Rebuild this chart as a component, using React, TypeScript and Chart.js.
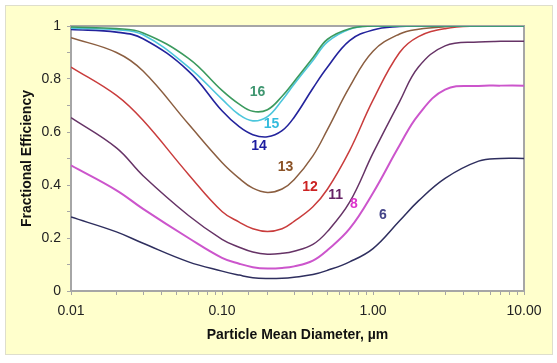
import React, { useEffect, useRef } from "react";
import { Chart, registerables } from "chart.js";

Chart.register(...registerables);

// Particle mean diameter (µm)
const diameters = [0.01, 0.02, 0.03, 0.06, 0.1, 0.13, 0.16, 0.2, 0.25, 0.3, 0.4, 0.5, 0.7, 1, 1.5, 2, 3, 5, 7, 10];

// Fractional efficiency per curve
const eff16 = [0.996, 0.99, 0.974, 0.878, 0.757, 0.705, 0.678, 0.684, 0.735, 0.79, 0.88, 0.95, 0.99, 1, 1, 1, 1, 1, 1, 1];
const eff15 = [0.992, 0.986, 0.967, 0.845, 0.724, 0.665, 0.642, 0.658, 0.72, 0.78, 0.87, 0.94, 0.988, 1, 1, 1, 1, 1, 1, 1];
const eff14 = [0.987, 0.977, 0.952, 0.83, 0.68, 0.62, 0.59, 0.582, 0.605, 0.655, 0.765, 0.845, 0.945, 0.985, 0.998, 1, 1, 1, 1, 1];
const eff13 = [0.956, 0.9, 0.83, 0.63, 0.485, 0.425, 0.388, 0.372, 0.385, 0.42, 0.51, 0.61, 0.77, 0.905, 0.97, 0.988, 0.997, 1, 1, 1];
const eff12 = [0.845, 0.738, 0.644, 0.44, 0.3, 0.26, 0.235, 0.225, 0.235, 0.263, 0.318, 0.385, 0.53, 0.72, 0.9, 0.96, 0.99, 1, 1, 1];
const eff11 = [0.654, 0.54, 0.435, 0.285, 0.195, 0.165, 0.147, 0.139, 0.142, 0.15, 0.176, 0.225, 0.335, 0.52, 0.715, 0.845, 0.925, 0.94, 0.942, 0.942];
const eff8 = [0.474, 0.38, 0.31, 0.2, 0.125, 0.103, 0.09, 0.085, 0.087, 0.093, 0.115, 0.155, 0.235, 0.37, 0.55, 0.665, 0.76, 0.774, 0.775, 0.775];
const eff6 = [0.279, 0.223, 0.18, 0.11, 0.075, 0.06, 0.05, 0.047, 0.048, 0.052, 0.062, 0.078, 0.11, 0.16, 0.265, 0.34, 0.425, 0.49, 0.5, 0.5];

// Curve annotations
const curveNames = ["16", "15", "14", "13", "12", "11", "8", "6"];
const labelDiameters = [0.172, 0.213, 0.176, 0.263, 0.383, 0.565, 0.748, 1.165];
const labelEffs = [0.75, 0.629, 0.548, 0.469, 0.391, 0.361, 0.327, 0.286];

const yTicks = [0, 0.2, 0.4, 0.6, 0.8, 1];

const lineColors = ["#3b9a5e", "#4cc6dc", "#23239c", "#8b5e40", "#c93c3c", "#663366", "#cc55cc", "#2e2e5e"];
const labelColors = ["#3f9670", "#33bbdd", "#1c1ca0", "#8b5226", "#cc2222", "#662266", "#dd33cc", "#444488"];
const lineWidths = [1.6, 1.6, 1.6, 1.5, 1.5, 1.5, 2, 1.5];

const seriesList = [eff16, eff15, eff14, eff13, eff12, eff11, eff8, eff6];

const FONT = "'Liberation Sans', Arial, sans-serif";

export default function App() {
  const ref = useRef<HTMLCanvasElement>(null);

  useEffect(() => {
    if (!ref.current) return;

    const plotFrame = {
      id: "plotFrame",
      beforeDraw(chart: any) {
        const { ctx, chartArea } = chart;
        ctx.save();
        ctx.fillStyle = "#ffffff";
        ctx.fillRect(chartArea.left, chartArea.top, chartArea.right - chartArea.left, chartArea.bottom - chartArea.top);
        ctx.restore();
      },
      beforeDatasetsDraw(chart: any) {
        const { ctx, chartArea } = chart;
        ctx.save();
        ctx.strokeStyle = "#a6a6a6";
        ctx.lineWidth = 2;
        ctx.strokeRect(chartArea.left, chartArea.top, chartArea.right - chartArea.left, chartArea.bottom - chartArea.top);
        ctx.restore();
      },
      afterDatasetsDraw(chart: any) {
        const { ctx } = chart;
        const xs = chart.scales.x;
        const ys = chart.scales.y;
        ctx.save();
        ctx.font = `bold 14px ${FONT}`;
        ctx.textAlign = "center";
        ctx.textBaseline = "middle";
        curveNames.forEach((name, i) => {
          ctx.fillStyle = labelColors[i];
          ctx.fillText(name, xs.getPixelForValue(labelDiameters[i]), ys.getPixelForValue(labelEffs[i]));
        });
        ctx.restore();
      },
    };

    const chart = new Chart(ref.current, {
      type: "line",
      data: {
        datasets: seriesList.map((s, i) => ({
          label: curveNames[i],
          data: diameters.map((d, j) => ({ x: d, y: s[j] })),
          borderColor: lineColors[i],
          borderWidth: lineWidths[i],
          pointRadius: 0,
          fill: false,
          tension: 0.4,
        })),
      },
      options: {
        responsive: false,
        animation: false,
        devicePixelRatio: 1,
        layout: { padding: { top: 26, right: 33, left: 0, bottom: 0 } },
        plugins: { legend: { display: false }, tooltip: { enabled: false } },
        scales: {
          x: {
            type: "logarithmic",
            min: 0.01,
            max: 10,
            afterFit: (s: any) => {
              s.height = 72;
            },
            border: { display: false },
            grid: { display: true, drawOnChartArea: false, drawTicks: true, tickLength: 4, color: "#a6a6a6", lineWidth: 1 },
            ticks: {
              autoSkip: false,
              maxRotation: 0,
              padding: 8,
              color: "#222222",
              font: { family: FONT, size: 14 },
              callback: (value: any) => {
                const v = Number(value);
                const l = Math.log10(v);
                return Math.abs(l - Math.round(l)) < 1e-6 ? v.toFixed(2) : "";
              },
            },
            title: {
              display: true,
              text: "Particle Mean Diameter, µm",
              color: "#111111",
              font: { family: FONT, size: 14, weight: "bold" },
              padding: { top: 0, bottom: 19.6 },
            },
          },
          y: {
            type: "linear",
            min: 0,
            max: 1,
            afterFit: (s: any) => {
              s.width = 71;
            },
            border: { display: false },
            grid: { display: true, drawOnChartArea: false, drawTicks: true, tickLength: 4, color: "#a6a6a6", lineWidth: 1 },
            ticks: {
              stepSize: 0.1,
              autoSkip: false,
              padding: 6,
              color: "#222222",
              font: { family: FONT, size: 14 },
              callback: (value: any) => {
                const v = Number(value);
                const hit = yTicks.find((t) => Math.abs(t - v) < 1e-6);
                return hit === undefined ? "" : String(hit);
              },
            },
            title: {
              display: true,
              text: "Fractional Efficiency",
              color: "#111111",
              font: { family: FONT, size: 14, weight: "bold" },
              padding: { top: 18.6, bottom: 0 },
            },
          },
        },
      },
      plugins: [plotFrame],
    });

    return () => chart.destroy();
  }, []);

  return (
    <div style={{ position: "fixed", left: 0, top: 0, width: 557, height: 363, background: "#ffffff", overflow: "hidden" }}>
      <div
        style={{
          position: "absolute",
          left: 5,
          top: 5,
          width: 546,
          height: 348,
          background: "#ffffcc",
          border: "1px solid #dedecc",
        }}
      />
      <canvas ref={ref} width={557} height={363} style={{ position: "absolute", left: 0, top: 0, width: 557, height: 363 }} />
    </div>
  );
}
